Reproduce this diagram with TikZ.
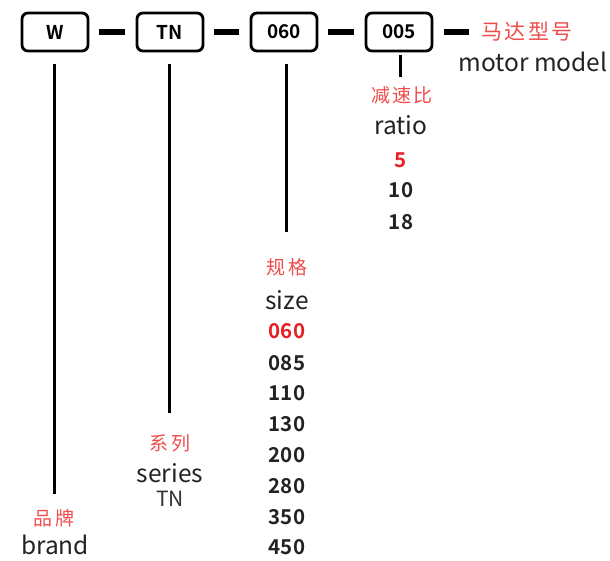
\documentclass[tikz,border=0pt]{standalone}
\usepackage{fontspec}
\setmainfont{Noto Sans CJK SC}[BoldFont={Noto Sans CJK SC Bold}]
\newfontfamily\zhfont{Noto Sans CJK SC}[LetterSpace=12]
\usetikzlibrary{positioning, calc}
\usepackage{xcolor}
\definecolor{labelred}{HTML}{F04B4B}
\definecolor{valred}{HTML}{E81E25}
\definecolor{ink}{HTML}{222222}
\definecolor{tngray}{HTML}{333333}

\tikzset{
    codebox/.style={draw, line width=2.8pt, rounded corners=6pt,
        minimum width=66pt, minimum height=38pt, inner sep=0pt,
        font=\fontsize{19}{19}\selectfont\bfseries},
    dashbar/.style={line width=6.5pt},
    stem/.style={line width=3pt},
    zhlabel/.style={text=labelred, inner sep=0pt,
        font=\fontsize{19}{19}\selectfont\zhfont},
    enlabel/.style={text=ink, inner sep=0pt,
        font=\fontsize{24.5}{24.5}\selectfont},
    codeval/.style={text=ink, inner sep=0pt,
        font=\fontsize{20.5}{20.5}\selectfont\bfseries},
    firstval/.style={codeval, text=valred}
}

\begin{document}
\begin{tikzpicture}[x=1pt,y=-1pt]
\useasboundingbox (0,0) rectangle (610,560);

\node[codebox] (w) at (55,32) {W};
\node[codebox] (tn) at (170,32) {TN};
\node[codebox] (size) at (284,32) {060};
\node[codebox] (ratio) at (399,32) {005};

\draw[dashbar] ([xshift=10pt]w.east) -- ([xshift=-11pt]tn.west);
\draw[dashbar] ([xshift=10pt]tn.east) -- ([xshift=-11pt]size.west);
\draw[dashbar] ([xshift=10pt]size.east) -- ([xshift=-11pt]ratio.west);
\coordinate (tail) at ([xshift=36pt]ratio.east);
\draw[dashbar] ([xshift=11pt]ratio.east) -- (tail);

\node[zhlabel, anchor=west, font=\fontsize{21}{21}\selectfont\zhfont] (modelzh) at (481,32) {马达型号};
\node[enlabel] (modelen) at (533,62) {motor model};

\coordinate (wfoot) at (54,494);
\coordinate (tnfoot) at (169,413);
\coordinate (sizefoot) at (286,232);
\coordinate (ratiofoot) at (400,77);
\draw[stem] ([yshift=-12pt]w.south -| wfoot) -- (wfoot);
\draw[stem] ([yshift=-12pt]tn.south -| tnfoot) -- (tnfoot);
\draw[stem] ([yshift=-12pt]size.south -| sizefoot) -- (sizefoot);
\draw[stem] ([yshift=-3pt]ratio.south -| ratiofoot) -- (ratiofoot);

\node[zhlabel] (brandzh) at (54,518) {品牌};
\node[enlabel] (branden) at (55,545) {brand};

\node[zhlabel] (serieszh) at (170,443) {系列};
\node[enlabel] (seriesen) at (170,473) {series};
\node[enlabel, text=tngray, font=\fontsize{21}{21}\selectfont] (seriesval) at (170,499) {TN};

\node[zhlabel] (sizezh) at (287,267) {规格};
\node[enlabel] (sizeen) at (287,300) {size};
\node[firstval] (sizea) at (287,331) {060};
\node[codeval] (sizeb) at (287,363) {085};
\node[codeval] (sizec) at (287,393) {110};
\node[codeval] (sized) at (287,424) {130};
\node[codeval] (sizee) at (287,455) {200};
\node[codeval] (sizef) at (287,486) {280};
\node[codeval] (sizeg) at (287,517) {350};
\node[codeval] (sizeh) at (287,547) {450};

\node[zhlabel] (ratiozh) at (402,95) {减速比};
\node[enlabel] (ratioen) at (401,125) {ratio};
\node[firstval] (ratioa) at (401,160) {5};
\node[codeval] (ratiob) at (401,190) {10};
\node[codeval] (ratioc) at (401,222) {18};
\end{tikzpicture}
\end{document}
